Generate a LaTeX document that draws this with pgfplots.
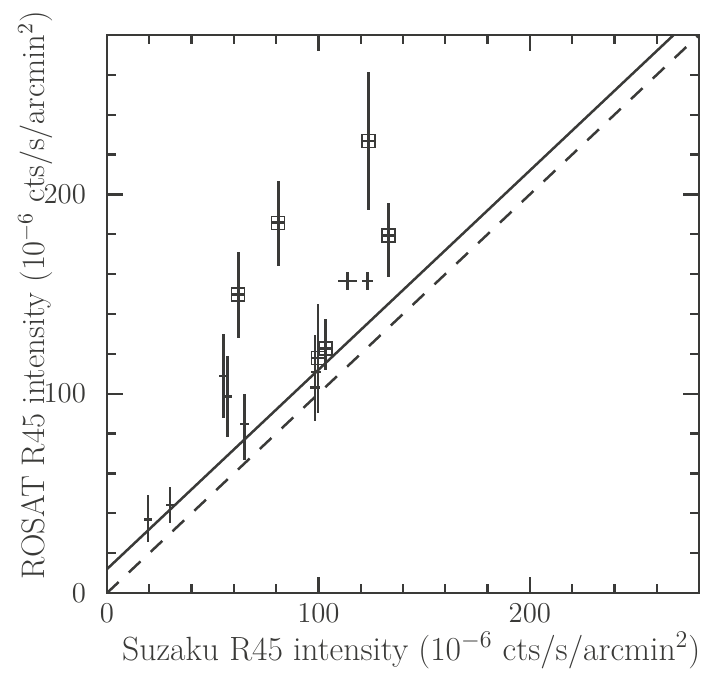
\documentclass[border=0pt]{standalone}
\usepackage{pgfplots}
\pgfplotsset{compat=1.18}
\usepackage{pgfplotstable}
\definecolor{ink}{RGB}{58,58,56}

\pgfplotstableread{
x     y      ex   ep    em
19.5  37.0   2.0  12.1  11.3
29.8  44.1   2.0  9.2   9.1
55.0  108.8  2.0  21.0  21.2
56.9  98.7   2.0  20.2  20.4
65.0  84.7   2.0  15.4  18.0
98.4  103.1  2.5  26.2  16.9
98.9  111.0  2.5  0.0   0.0
113.7 156.5  4.4  4.5   4.5
123.1 156.5  2.7  4.5   4.5
}\plaindata

\pgfplotstableread{
x     y      ex   ep    em
62.1  149.7  3.0  21.4  21.5
81.0  185.8  3.0  20.9  21.7
99.8  117.8  3.0  27.4  27.6
103.4 122.6  3.0  14.7  10.8
123.6 226.7  3.0  34.7  34.7
133.1 179.4  3.0  16.2  20.9
}\squaredata

\begin{document}
\begin{tikzpicture}
\begin{axis}[
  at={(0,0)}, anchor=south west,
  scale only axis, width=296pt, height=279pt,
  xmin=0, xmax=280, ymin=0, ymax=280,
  xtick={0,100,200}, ytick={0,100,200},
  minor xtick={20,40,60,80,120,140,160,180,220,240,260},
  minor ytick={20,40,60,80,120,140,160,180,220,240,260},
  tick align=inside,
  major tick length=8pt, minor tick length=4.5pt,
  axis line style={ink, line width=1.3pt},
  every tick/.style={ink, line width=1.2pt},
  every minor tick/.style={ink, line width=1.2pt},
  font=\fontsize{14}{17}\selectfont,
  tick label style={font=\fontsize{14.5}{17}\selectfont, text=ink},
  xticklabel style={yshift=-2pt},
  yticklabel style={xshift=-7pt},
  label style={text=ink, font=\fontsize{16.8}{19}\selectfont},
  xlabel={Suzaku R45 intensity (10$^{-6}$ cts/s/arcmin$^2$)},
  ylabel={ROSAT R45 intensity (10$^{-6}$ cts/s/arcmin$^2$)},
  xlabel style={at={(axis description cs:0.514,0)}, anchor=base, yshift=-33.5pt},
  ylabel style={at={(axis description cs:0,0.534)}, anchor=base, yshift=31pt,
    font=\fontsize{16.3}{19}\selectfont},
  clip=true,
]
\addplot[ink, line width=1.25pt] coordinates {(0,12) (268,280)};
\addplot[ink, line width=1.25pt, dash pattern=on 8pt off 7pt] coordinates {(0,0) (280,280)};

\addplot[ink, only marks, mark=*, mark size=0pt, mark options={draw=none, fill=none},
  error bars/.cd, x dir=both, x explicit, y dir=both, y explicit,
  error mark=none, error bar style={ink, line width=1.25pt}]
  table[x=x, y=y, x error=ex, y error plus=ep, y error minus=em] {\plaindata};

\addplot[ink, only marks, mark=square, mark size=3.25pt,
  mark options={ink, line width=0.7pt, fill=none},
  error bars/.cd, x dir=both, x explicit, y dir=both, y explicit,
  error mark=none, error bar style={ink, line width=1.25pt}]
  table[x=x, y=y, x error=ex, y error plus=ep, y error minus=em] {\squaredata};
\end{axis}
\pgfresetboundingbox
\path[use as bounding box] (-53.5pt,-40pt) rectangle (309.5pt,296.5pt);
\end{tikzpicture}
\end{document}
